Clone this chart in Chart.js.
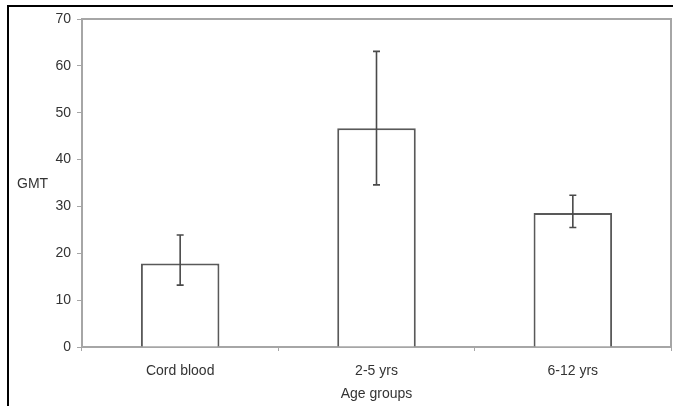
<!DOCTYPE html>
<html>
<head>
<meta charset="utf-8">
<script src="https://cdn.jsdelivr.net/npm/chart.js@4/dist/chart.umd.min.js"></script>
<style>
  html, body { margin: 0; padding: 0; background: #fff; }
  #wrap { position: relative; width: 673px; height: 406px; overflow: hidden; }
  #frame { position: absolute; left: 7px; top: 5px; width: 700px; height: 450px;
           border-left: 2px solid #000; border-top: 2px solid #000; }
  canvas { position: absolute; left: 0; top: 0; }
</style>
</head>
<body>
<div id="wrap">
  <div id="frame"></div>
  <canvas id="gmtChart" width="673" height="406"></canvas>
</div>
<script>
// geometric mean titres by age group
const categories = ['Cord blood', '2-5 yrs', '6-12 yrs'];
const gmtValues = [17.8, 46.7, 28.6];
const errLow = [13.2, 34.6, 25.5];
const errHigh = [23.9, 63.1, 32.4];
const yTicks = [0, 10, 20, 30, 40, 50, 60, 70];

const textColor = '#333';
const axisColor = '#a6a6a6';
const barLine = '#595959';
const font = { family: "'Liberation Sans', Arial, sans-serif", size: 14 };

// error bars + plot box + horizontal GMT label
const extras = {
  id: 'extras',
  afterDatasetsDraw(chart) {
    const ctx = chart.ctx;
    const y = chart.scales.y;
    const bars = chart.getDatasetMeta(0).data;
    ctx.save();
    ctx.strokeStyle = '#4a4a4a';
    ctx.lineWidth = 1.6;
    bars.forEach((bar, i) => {
      const yLo = y.getPixelForValue(errLow[i]);
      const yHi = y.getPixelForValue(errHigh[i]);
      ctx.beginPath();
      ctx.moveTo(bar.x, yLo);
      ctx.lineTo(bar.x, yHi);
      ctx.moveTo(bar.x - 3.5, yLo);
      ctx.lineTo(bar.x + 3.5, yLo);
      ctx.moveTo(bar.x - 3.5, yHi);
      ctx.lineTo(bar.x + 3.5, yHi);
      ctx.stroke();
    });
    const a = chart.chartArea;
    ctx.strokeStyle = axisColor;
    ctx.lineWidth = 2;
    ctx.beginPath();
    ctx.moveTo(a.left, a.top);
    ctx.lineTo(a.right, a.top);
    ctx.lineTo(a.right, a.bottom);
    ctx.stroke();

    ctx.fillStyle = textColor;
    ctx.font = '14px ' + font.family;
    ctx.textAlign = 'left';
    ctx.textBaseline = 'middle';
    ctx.fillText('GMT', 17, y.getPixelForValue(35) + 1);
    ctx.restore();
  }
};

new Chart(document.getElementById('gmtChart'), {
  type: 'bar',
  data: {
    labels: categories,
    datasets: [{
      data: gmtValues,
      backgroundColor: '#fff',
      borderColor: barLine,
      borderWidth: 2,
      barPercentage: 0.4,
      categoryPercentage: 1
    }]
  },
  options: {
    responsive: false,
    animation: false,
    layout: { padding: { top: 19, right: 2, left: 0, bottom: 0 } },
    plugins: { legend: { display: false }, tooltip: { enabled: false } },
    scales: {
      x: {
        grid: { drawOnChartArea: false, drawTicks: true, tickLength: 4, color: axisColor, offset: true },
        border: { color: axisColor, width: 2 },
        ticks: { color: textColor, font: font, padding: 12 },
        title: { display: true, text: 'Age groups', color: textColor, font: font, padding: { top: 4, bottom: 3 } },
        afterFit(scale) { scale.height = 59; }
      },
      y: {
        min: 0,
        max: 70,
        afterBuildTicks(scale) { scale.ticks = yTicks.map(v => ({ value: v })); },
        grid: { drawOnChartArea: false, drawTicks: true, tickLength: 5, color: axisColor },
        border: { color: axisColor, width: 2 },
        ticks: { color: textColor, font: font, padding: 6 },
        afterFit(scale) { scale.width = 82; }
      }
    }
  },
  plugins: [extras]
});
</script>
</body>
</html>
